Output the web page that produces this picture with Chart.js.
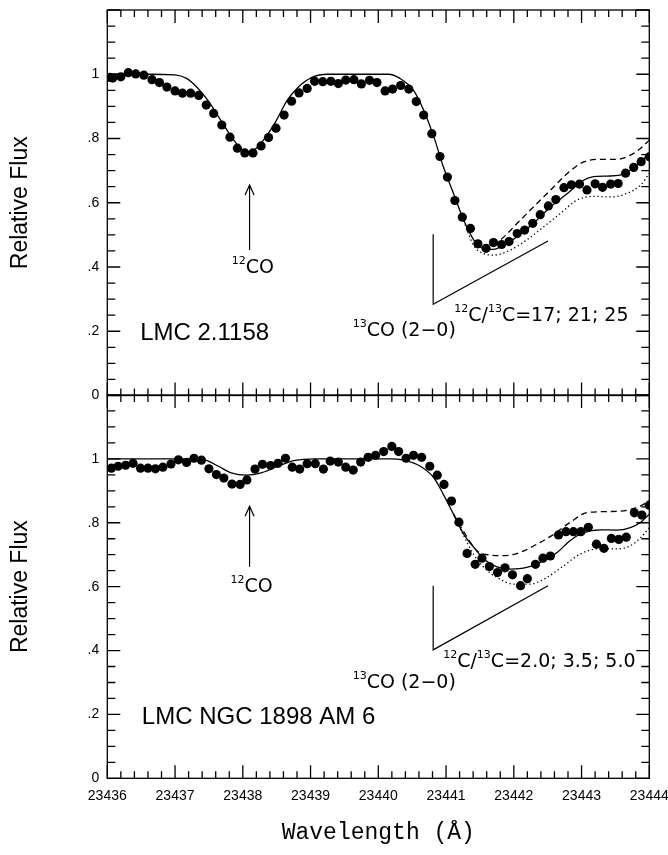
<!DOCTYPE html>
<html>
<head>
<meta charset="utf-8">
<script src="https://cdn.jsdelivr.net/npm/chart.js@4.4.1/dist/chart.umd.min.js"></script>
<style>
  html, body { margin: 0; padding: 0; background: #fff; }
  #wrap { position: relative; width: 668px; height: 855px; overflow: hidden; }
  canvas { position: absolute; left: 0; }
  #panelTop { top: 0; }
  #panelBottom { top: 385px; }
</style>
</head>
<body>
<div id="wrap">
  <canvas id="panelTop" width="668" height="410"></canvas>
  <canvas id="panelBottom" width="668" height="470"></canvas>
</div>
<script>
// --- datos: panel superior (LMC 2.1158) ---
const topObsX = [23436.04, 23436.08, 23436.20, 23436.31, 23436.42, 23436.54, 23436.66, 23436.77, 23436.88, 23437.00,
  23437.11, 23437.23, 23437.35, 23437.46, 23437.57, 23437.69, 23437.81, 23437.92, 23438.03, 23438.15,
  23438.27, 23438.38, 23438.49, 23438.61, 23438.72, 23438.83, 23438.95, 23439.06, 23439.18, 23439.30,
  23439.41, 23439.52, 23439.64, 23439.75, 23439.87, 23439.98, 23440.10, 23440.21, 23440.33, 23440.45,
  23440.56, 23440.67, 23440.79, 23440.91, 23441.02, 23441.13, 23441.24, 23441.36, 23441.47, 23441.59,
  23441.70, 23441.82, 23441.93, 23442.05, 23442.16, 23442.28, 23442.39, 23442.51, 23442.62, 23442.74,
  23442.85, 23442.97, 23443.08, 23443.20, 23443.31, 23443.43, 23443.54, 23443.65, 23443.77, 23443.88, 23444.00];
const topObsY = [0.990, 0.988, 0.992, 1.005, 1.001, 0.997, 0.983, 0.974, 0.960, 0.948,
  0.941, 0.941, 0.934, 0.904, 0.878, 0.842, 0.804, 0.770, 0.755, 0.755,
  0.777, 0.803, 0.832, 0.873, 0.916, 0.942, 0.956, 0.978, 0.977, 0.978,
  0.971, 0.982, 0.983, 0.970, 0.981, 0.974, 0.948, 0.954, 0.965, 0.954,
  0.915, 0.873, 0.815, 0.744, 0.680, 0.607, 0.555, 0.520, 0.472, 0.458,
  0.476, 0.470, 0.479, 0.504, 0.515, 0.536, 0.563, 0.590, 0.610, 0.647,
  0.656, 0.658, 0.640, 0.659, 0.648, 0.658, 0.660, 0.692, 0.710, 0.728, 0.743];

const topFitX = [23436.0, 23436.6, 23437.0, 23437.17, 23437.33, 23437.49, 23437.65, 23437.81, 23437.96, 23438.07,
  23438.18, 23438.33, 23438.49, 23438.65, 23438.81, 23439.02, 23439.25, 23440.15, 23440.32, 23440.52,
  23440.67, 23440.82, 23440.96, 23441.11, 23441.26, 23441.41, 23441.55, 23441.70, 23441.85, 23442.05,
  23442.29, 23442.54, 23442.79, 23443.03, 23443.18, 23443.38, 23443.57, 23443.72, 23443.87, 23444.0];
const topFitY = [1.0, 1.0, 0.998, 0.987, 0.958, 0.917, 0.865, 0.812, 0.771, 0.756,
  0.766, 0.802, 0.854, 0.917, 0.958, 0.990, 1.0, 1.0, 0.987, 0.950,
  0.888, 0.805, 0.712, 0.629, 0.546, 0.484, 0.458, 0.455, 0.468, 0.494,
  0.536, 0.587, 0.629, 0.670, 0.681, 0.683, 0.686, 0.701, 0.727, 0.753];

const topLowX = [23441.55, 23441.80, 23442.05, 23442.29, 23442.54, 23442.79, 23443.03, 23443.28, 23443.52, 23443.72, 23443.87, 23444.0];
const topLowY = [0.458, 0.484, 0.536, 0.587, 0.639, 0.691, 0.727, 0.735, 0.735, 0.748, 0.769, 0.795];

const topHighX = [23441.26, 23441.41, 23441.55, 23441.70, 23441.95, 23442.19, 23442.44, 23442.69, 23442.93, 23443.18, 23443.43, 23443.67, 23443.87, 23444.0];
const topHighY = [0.544, 0.466, 0.442, 0.437, 0.453, 0.484, 0.525, 0.567, 0.608, 0.620, 0.618, 0.629, 0.655, 0.691];

// --- datos: panel inferior (LMC NGC 1898 AM 6) ---
const botObsX = [23436.06, 23436.16, 23436.27, 23436.38, 23436.49, 23436.60, 23436.71, 23436.82, 23436.94, 23437.05,
  23437.17, 23437.28, 23437.39, 23437.50, 23437.61, 23437.72, 23437.84, 23437.96, 23438.06, 23438.18,
  23438.29, 23438.41, 23438.52, 23438.63, 23438.73, 23438.84, 23438.95, 23439.07, 23439.19, 23439.29,
  23439.41, 23439.52, 23439.63, 23439.74, 23439.85, 23439.96, 23440.08, 23440.20, 23440.30, 23440.41,
  23440.52, 23440.64, 23440.76, 23440.87, 23440.97, 23441.08, 23441.19, 23441.31, 23441.43, 23441.53,
  23441.64, 23441.76, 23441.87, 23441.98, 23442.10, 23442.20, 23442.32, 23442.43, 23442.54, 23442.66,
  23442.77, 23442.88, 23442.99, 23443.10, 23443.22, 23443.33, 23443.44, 23443.55, 23443.66, 23443.78,
  23443.89, 23444.00];
const botObsY = [0.971, 0.977, 0.980, 0.986, 0.971, 0.971, 0.969, 0.974, 0.984, 0.997,
  0.989, 1.002, 0.996, 0.969, 0.951, 0.940, 0.921, 0.920, 0.934, 0.968,
  0.983, 0.979, 0.986, 1.002, 0.974, 0.968, 0.985, 0.985, 0.968, 0.993,
  0.990, 0.974, 0.965, 0.990, 1.005, 1.011, 1.023, 1.039, 1.023, 1.002,
  1.011, 1.005, 0.977, 0.949, 0.920, 0.868, 0.802, 0.704, 0.670, 0.689,
  0.663, 0.644, 0.659, 0.637, 0.603, 0.625, 0.670, 0.689, 0.696, 0.762,
  0.772, 0.772, 0.772, 0.786, 0.733, 0.720, 0.751, 0.748, 0.755, 0.831,
  0.824, 0.855];

const botFitX = [23436.0, 23437.3, 23437.44, 23437.64, 23437.83, 23438.05, 23438.27, 23438.52, 23438.77, 23439.06,
  23440.2, 23440.37, 23440.62, 23440.82, 23440.96, 23441.11, 23441.26, 23441.41, 23441.56, 23441.75,
  23441.95, 23442.19, 23442.44, 23442.64, 23442.83, 23443.03, 23443.28, 23443.52, 23443.72, 23443.87, 23444.0];
const botFitY = [1.0, 1.0, 0.997, 0.977, 0.956, 0.949, 0.956, 0.977, 0.995, 1.0,
  1.0, 0.996, 0.977, 0.941, 0.889, 0.827, 0.764, 0.723, 0.686, 0.662,
  0.655, 0.660, 0.681, 0.707, 0.744, 0.769, 0.778, 0.777, 0.785, 0.801, 0.827];

const botLowX = [23441.11, 23441.26, 23441.46, 23441.65, 23441.85, 23442.09, 23442.34, 23442.59, 23442.83, 23443.08, 23443.38, 23443.67, 23443.87, 23444.0];
const botLowY = [0.827, 0.772, 0.712, 0.699, 0.697, 0.707, 0.733, 0.764, 0.801, 0.832, 0.835, 0.839, 0.853, 0.868];

const botHighX = [23441.11, 23441.26, 23441.41, 23441.56, 23441.75, 23442.0, 23442.24, 23442.49, 23442.74, 23442.98, 23443.23, 23443.47, 23443.72, 23443.92, 23444.0];
const botHighY = [0.827, 0.760, 0.700, 0.660, 0.629, 0.608, 0.608, 0.629, 0.666, 0.702, 0.718, 0.718, 0.728, 0.764, 0.785];

const xTickValues = [23436, 23437, 23438, 23439, 23440, 23441, 23442, 23443, 23444];
const yTickLabels = ['0', '.2', '.4', '.6', '.8', '1', ''];

function pares(xs, ys) {
  return xs.map((x, i) => ({ x: x, y: ys[i] }));
}

// --- marco y marcas hacia dentro ---
const marcoPlugin = {
  id: 'marco',
  afterDatasetsDraw(chart) {
    const { ctx, chartArea: a, scales: { x, y } } = chart;
    ctx.save();
    ctx.strokeStyle = '#000';
    ctx.lineWidth = 1.3;
    ctx.strokeRect(a.left, a.top, a.right - a.left, a.bottom - a.top);
    ctx.beginPath();
    for (let i = 0; i <= 40; i++) {
      const px = x.getPixelForValue(23436 + i * 0.2);
      const len = i % 5 === 0 ? 13 : 7;
      ctx.moveTo(px, a.bottom); ctx.lineTo(px, a.bottom - len);
      ctx.moveTo(px, a.top); ctx.lineTo(px, a.top + len);
    }
    for (let i = 0; i <= 24; i++) {
      const py = y.getPixelForValue(i * 0.05);
      const len = i % 4 === 0 ? 13 : 8;
      ctx.moveTo(a.left, py); ctx.lineTo(a.left + len, py);
      ctx.moveTo(a.right, py); ctx.lineTo(a.right - len, py);
    }
    ctx.stroke();
    ctx.restore();
  }
};

// --- anotaciones (flecha, corchete, textos) ---
const notasPlugin = {
  id: 'notas',
  afterDraw(chart, args, opts) {
    const { ctx, scales: { x, y } } = chart;
    ctx.save();
    ctx.strokeStyle = '#000';
    ctx.fillStyle = '#000';
    ctx.lineWidth = 1.2;

    // flecha 12CO
    const ax = x.getPixelForValue(opts.flecha.x);
    const ay0 = y.getPixelForValue(opts.flecha.y0);
    const ay1 = y.getPixelForValue(opts.flecha.y1);
    ctx.beginPath();
    ctx.moveTo(ax, ay0); ctx.lineTo(ax, ay1);
    ctx.moveTo(ax - 4.5, ay1 + 10); ctx.lineTo(ax, ay1); ctx.lineTo(ax + 4.5, ay1 + 10);
    ctx.stroke();

    // corchete 13CO
    ctx.beginPath();
    opts.corchete.forEach((p, i) => {
      const px = x.getPixelForValue(p[0]), py = y.getPixelForValue(p[1]);
      if (i === 0) ctx.moveTo(px, py); else ctx.lineTo(px, py);
    });
    ctx.stroke();

    ctx.textBaseline = 'alphabetic';
    ctx.textAlign = 'left';
    opts.textos.forEach(t => {
      let cx = x.getPixelForValue(t.x);
      const cy = y.getPixelForValue(t.y);
      t.partes.forEach(([txt, sup]) => {
        ctx.font = sup ? '11px "DejaVu Sans"' : (t.font || '19px "DejaVu Sans"');
        ctx.fillText(txt, cx, sup ? cy - 9 : cy);
        cx += ctx.measureText(txt).width;
      });
    });
    ctx.restore();
  }
};

function opcionesEjeY() {
  return {
    min: 0,
    max: 1.2,
    afterFit(s) { s.width = 107.3; s.paddingTop = 0; s.paddingBottom = 0; },
    grid: { display: false, drawTicks: false },
    border: { display: false },
    ticks: {
      stepSize: 0.2,
      padding: 8,
      color: '#000',
      font: { family: 'Liberation Sans', size: 14 },
      callback: (v, i) => yTickLabels[i]
    },
    title: {
      display: true,
      text: 'Relative Flux',
      color: '#000',
      font: { family: 'Liberation Sans', size: 23 },
      padding: { top: 7, bottom: 0 }
    }
  };
}

function conjuntos(fitX, fitY, lowX, lowY, highX, highY, obsX, obsY) {
  const linea = { showLine: true, borderColor: '#000', borderWidth: 1.3, pointRadius: 0, cubicInterpolationMode: 'monotone' };
  return [
    Object.assign({ data: pares(fitX, fitY) }, linea),
    Object.assign({ data: pares(lowX, lowY), borderDash: [6, 4] }, linea),
    Object.assign({ data: pares(highX, highY), borderDash: [1.3, 2.7] }, linea),
    { data: pares(obsX, obsY), showLine: false, pointRadius: 4.6, backgroundColor: '#000', borderWidth: 0 }
  ];
}

function crearPanelSuperior() {
  new Chart(document.getElementById('panelTop'), {
    type: 'scatter',
    data: { datasets: conjuntos(topFitX, topFitY, topLowX, topLowY, topHighX, topHighY, topObsX, topObsY) },
    options: {
      responsive: false,
      animation: false,
      events: [],
      layout: { padding: { left: 0, right: 18.7, top: 10, bottom: 14.5 } },
      plugins: {
        legend: { display: false },
        tooltip: { enabled: false },
        notas: {
          flecha: { x: 23438.1, y0: 0.453, y1: 0.655 },
          corchete: [[23440.81, 0.502], [23440.81, 0.284], [23442.505, 0.481]],
          textos: [
            { x: 23437.838, y: 0.3826, partes: [['12', 1], ['CO', 0]] },
            { x: 23439.622, y: 0.185, partes: [['13', 1], ['CO (2\u22120)', 0]] },
            { x: 23441.121, y: 0.2317, partes: [['12', 1], ['C/', 0], ['13', 1], ['C=17; 21; 25', 0]] },
            { x: 23436.485, y: 0.1726, font: '24px "Liberation Sans"', partes: [['LMC 2.1158', 0]] }
          ]
        }
      },
      scales: {
        x: { type: 'linear', min: 23436, max: 23444, display: false },
        y: opcionesEjeY()
      }
    },
    plugins: [marcoPlugin, notasPlugin]
  });
}

function crearPanelInferior() {
  new Chart(document.getElementById('panelBottom'), {
    type: 'scatter',
    data: { datasets: conjuntos(botFitX, botFitY, botLowX, botLowY, botHighX, botHighY, botObsX, botObsY) },
    options: {
      responsive: false,
      animation: false,
      events: [],
      layout: { padding: { left: 0, right: 18.7, top: 10, bottom: 0 } },
      plugins: {
        legend: { display: false },
        tooltip: { enabled: false },
        notas: {
          flecha: { x: 23438.1, y0: 0.662, y1: 0.852 },
          corchete: [[23440.81, 0.603], [23440.81, 0.402], [23442.505, 0.603]],
          textos: [
            { x: 23437.818, y: 0.584, partes: [['12', 1], ['CO', 0]] },
            { x: 23439.622, y: 0.2815, partes: [['13', 1], ['CO (2\u22120)', 0]] },
            { x: 23440.958, y: 0.347, partes: [['12', 1], ['C/', 0], ['13', 1], ['C=2.0; 3.5; 5.0', 0]] },
            { x: 23436.51, y: 0.1714, font: '24px "Liberation Sans"', partes: [['LMC NGC 1898 AM 6', 0]] }
          ]
        }
      },
      scales: {
        x: {
          type: 'linear',
          min: 23436,
          max: 23444,
          afterFit(s) { s.height = 76.7; s.paddingLeft = 0; s.paddingRight = 0; },
          afterBuildTicks(s) { s.ticks = xTickValues.map(v => ({ value: v })); },
          grid: { display: false, drawTicks: false },
          border: { display: false },
          ticks: {
            padding: 9,
            maxRotation: 0,
            autoSkip: false,
            color: '#000',
            font: { family: 'Liberation Sans', size: 14 },
            callback: v => String(v)
          },
          title: {
            display: true,
            text: 'Wavelength (\u00C5)',
            color: '#000',
            font: { family: 'Liberation Mono', size: 23 },
            padding: { top: 0, bottom: 8 }
          }
        },
        y: opcionesEjeY()
      }
    },
    plugins: [marcoPlugin, notasPlugin]
  });
}

document.addEventListener('DOMContentLoaded', () => {
  crearPanelSuperior();
  crearPanelInferior();
});
</script>
</body>
</html>
